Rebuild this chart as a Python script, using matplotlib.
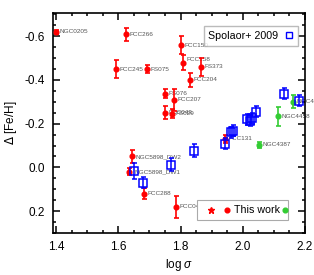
import numpy as np
import matplotlib
matplotlib.use('Agg')
import matplotlib.pyplot as plt
from matplotlib.ticker import MultipleLocator
from matplotlib.patches import Rectangle

plt.rcParams['font.family'] = ['Liberation Sans', 'DejaVu Sans']
plt.rcParams['mathtext.fontset'] = 'custom'
plt.rcParams['mathtext.it'] = 'Liberation Sans:italic'

# red: this work
red_names = ['NGC0205', 'FCC266', 'FCC245', 'FS075', 'FCC150', 'FCC158', 'FS373',
             'FCC204', 'FS076', 'FCC207', 'FCC043', 'FS029', 'FCC131',
             'NGC5898_DW2', 'NGC5898_DW1', 'FCC288', 'FCC046']
red_logs = [1.398, 1.626, 1.594, 1.693, 1.802, 1.809, 1.866,
            1.829, 1.750, 1.779, 1.750, 1.773, 1.942,
            1.645, 1.635, 1.683, 1.787]
red_feh = [-0.62, -0.61, -0.45, -0.45, -0.56, -0.48, -0.46,
           -0.40, -0.338, -0.31, -0.25, -0.245, -0.13,
           -0.05, 0.02, 0.12, 0.18]
red_err = [0.01, 0.03, 0.04, 0.02, 0.04, 0.035, 0.04,
           0.03, 0.02, 0.05, 0.03, 0.02, 0.02,
           0.03, 0.015, 0.025, 0.05]

# green: this work
green_names = ['NGC4387', 'NGC4458', 'NGC4464']
green_logs = [2.053, 2.113, 2.163]
green_feh = [-0.103, -0.233, -0.30]
green_err = [0.015, 0.043, 0.03]

# blue: Spolaor+ 2009
blue_logs = [1.649, 1.679, 1.769, 1.843, 1.942, 1.962, 1.970,
             2.015, 2.024, 2.031, 2.042, 2.133, 2.181]
blue_feh = [0.017, 0.07, -0.012, -0.077, -0.108, -0.16, -0.168,
            -0.22, -0.214, -0.224, -0.255, -0.338, -0.305]
blue_err = [0.035, 0.025, 0.03, 0.03, 0.025, 0.025, 0.025,
            0.025, 0.025, 0.025, 0.025, 0.025, 0.025]

fig = plt.figure(figsize=(3.14, 2.75), dpi=100)
ax = fig.add_axes([0.169, 0.153, 0.802, 0.8])

lab_kw = dict(fontsize=4.6, color='#555555', va='center', ha='left',
              textcoords='offset points', zorder=1, annotation_clip=False)

# labels first (behind markers)
for n, x, y in zip(red_names, red_logs, red_feh):
    dx, dy = 2.5, 0
    if n == 'FCC158':
        dy = 2
    if n == 'NGC5898_DW1':
        dx = 4
    ax.annotate(n, (x, y), xytext=(dx, dy), **lab_kw)
for n, x, y in zip(green_names, green_logs, green_feh):
    ax.annotate(n, (x, y), xytext=(2.5, 0), **lab_kw)

ax.errorbar(red_logs, red_feh, yerr=red_err, fmt='o', color='red', ms=3.4,
            elinewidth=1.2, capsize=1.8, capthick=1.2, zorder=3)
ax.errorbar(green_logs, green_feh, yerr=green_err, fmt='o', color='#33cc33', ms=3.4,
            elinewidth=1.2, capsize=1.8, capthick=1.2, zorder=3)
ax.errorbar(blue_logs, blue_feh, yerr=blue_err, fmt='s', color='blue', ms=5.3,
            mfc='none', mew=1.1, elinewidth=1.1, capsize=1.8, capthick=1.1, zorder=4)

ax.set_xlim(1.39, 2.2)
ax.set_ylim(0.3, -0.707)
ax.xaxis.set_minor_locator(MultipleLocator(0.05))
ax.yaxis.set_minor_locator(MultipleLocator(0.05))
ax.set_xticks([1.4, 1.6, 1.8, 2.0, 2.2])
ax.set_xticklabels(['1.4', '1.6', '1.8', '2.0', '2.2'])
ax.set_yticks([-0.6, -0.4, -0.2, 0.0, 0.2])
ax.set_yticklabels(['-0.6', '-0.4', '-0.2', '0.0', '0.2'])
ax.tick_params(which='both', direction='in', top=True, right=True, labelsize=8.5, width=1.1)
ax.tick_params(which='major', length=5, pad=6)
ax.tick_params(which='minor', length=2.5)
for s in ax.spines.values():
    s.set_linewidth(1.2)

ax.set_xlabel(r'log $\sigma$', fontsize=8.5, labelpad=3)
ax.set_ylabel(r'$\Delta$ [Fe/H]', fontsize=8.5, labelpad=4)

# top legend
ax.legend(handles=[plt.Line2D([], [], ls='none', marker='s', ms=4, mfc='none',
                              mec='blue', mew=1.0)],
          labels=['Spolaor+ 2009'], loc='upper right', markerfirst=False,
          fontsize=7.7, frameon=True, fancybox=False, edgecolor='#aaaaaa',
          handlelength=0.8, handletextpad=0.6, borderpad=0.45,
          bbox_to_anchor=(0.995, 0.965))

# bottom legend (manual)
ax.add_patch(Rectangle((0.571, 0.059), 0.362, 0.092, transform=ax.transAxes,
                       fill=True, fc='white', ec='#aaaaaa', lw=0.8, zorder=5))
ax.plot([0.627], [0.105], marker='*', color='red', ms=5, ls='none',
        transform=ax.transAxes, zorder=6, clip_on=False)
ax.plot([0.689], [0.105], marker='o', color='red', ms=3.4, ls='none',
        transform=ax.transAxes, zorder=6, clip_on=False)
ax.text(0.72, 0.105, 'This work', transform=ax.transAxes, fontsize=7.7,
        va='center', ha='left', zorder=6)
ax.plot([0.921], [0.105], marker='o', color='#33cc33', ms=3.4, ls='none',
        transform=ax.transAxes, zorder=6, clip_on=False)

fig.savefig('out.png', dpi=100)
